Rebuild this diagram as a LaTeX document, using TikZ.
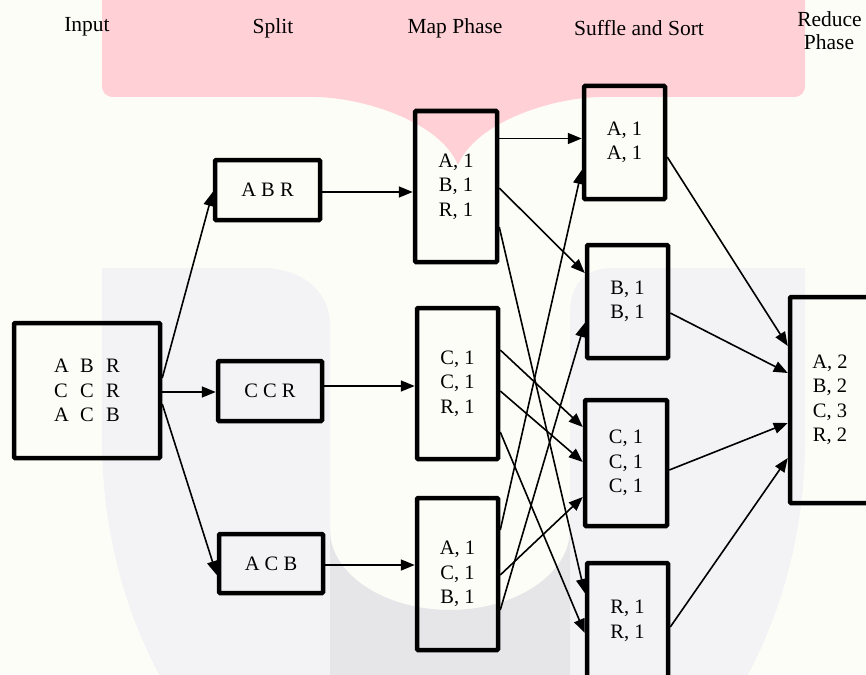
\documentclass[tikz,border=0pt]{standalone}
\usepackage{fontspec}
\setmainfont{Liberation Serif}
\usetikzlibrary{arrows.meta,calc}
\definecolor{paper}{HTML}{FDFDF8}
\definecolor{logored}{HTML}{FFD1D6}
\definecolor{logogray}{HTML}{F3F3F6}
\definecolor{logodark}{HTML}{E6E6E9}
\begin{document}
\begin{tikzpicture}[x=1pt,y=-1pt,
  box/.style={draw, line width=4.5pt, rounded corners=1pt, inner sep=0pt,
    align=center, font=\fontsize{20.5}{24.5}\selectfont},
  flow/.style={line width=1.6pt, -{Triangle[length=14pt,width=11pt]}},
  phase/.style={anchor=base, font=\fontsize{21.5}{24}\selectfont}]

% page
\fill[paper] (0,0) rectangle (866,674);
\useasboundingbox (0,0) rectangle (866,674);

% background emblem
\fill[logored] (102,-5) -- (102,85) .. controls (102,93) and (106,97) .. (114,97)
  -- (316,97) .. controls (365,98) and (440,122) .. (458,165)
  .. controls (476,122) and (551,98) .. (600,97)
  -- (793,97) .. controls (801,97) and (805,93) .. (805,85) -- (805,-5) -- cycle;
\fill[logogray] (102,268) -- (262,268) .. controls (300,268) and (330,290) .. (330,325)
  -- (330,530) .. controls (330,574) and (384,610) .. (450,610)
  .. controls (516,610) and (570,574) .. (570,530)
  -- (570,312) .. controls (570,285) and (585,268) .. (612,268)
  -- (805,268) -- (805,440) .. controls (805,677) and (646.5,871) .. (453.5,871)
  .. controls (260.5,871) and (102,677) .. (102,440) -- cycle;
\fill[logodark] (330,530) .. controls (330,574) and (384,610) .. (450,610)
  .. controls (516,610) and (570,574) .. (570,530) -- (570,690) -- (330,690) -- cycle;

% column headings
\node[phase] (hin)   at (87,31.5)  {Input};
\node[phase] (hsp)   at (273,33.5) {Split};
\node[phase] (hmap)  at (455,33.5) {Map Phase};
\node[phase] (hsort) at (639,36)   {Suffle and Sort};
\node[phase] (hred)  at (829.5,27) {Reduce};
\node[phase] (hred2) at (829,50)   {Phase};

% input
\node[box, minimum width=146pt, minimum height=135pt] (in) at (87,390.5)
  {\makebox[26pt][l]{A}\makebox[26pt][l]{B}R\\
   \makebox[26pt][l]{C}\makebox[26pt][l]{C}R\\
   \makebox[26pt][l]{A}\makebox[26pt][l]{C}B};

% split
\node[box, minimum width=105pt, minimum height=60pt] (abr) at (267.5,190)   {A B R};
\node[box, minimum width=104pt, minimum height=60pt] (ccr) at (270,391)     {C C R};
\node[box, minimum width=104pt, minimum height=59pt] (acb) at (271,563.5)   {A C B};

% map
\node[box, minimum width=82pt, minimum height=151pt] (m1) at (456,186.5)   {A, 1\\B, 1\\R, 1};
\node[box, minimum width=81pt, minimum height=151pt] (m2) at (457.5,383.5) {C, 1\\C, 1\\R, 1};
\node[box, minimum width=81pt, minimum height=152pt] (m3) at (457.5,574)   {A, 1\\C, 1\\B, 1};

% shuffle and sort
\node[box, minimum width=81pt, minimum height=113pt] (s1) at (624.5,142.5) {A, 1\\A, 1};
\node[box, minimum width=81pt, minimum height=113pt] (s2) at (627.5,301.5) {B, 1\\B, 1};
\node[box, minimum width=82pt, minimum height=126pt] (s3) at (626,463)     {C, 1\\C, 1\\C, 1};
\node[box, minimum width=81pt, minimum height=116pt] (s4) at (627.5,621)   {R, 1\\R, 1};

% reduce
\node[box, minimum width=80pt, minimum height=206pt] (red) at (830,400)
  {A, 2\\B, 2\\C, 3\\R, 2};

% input -> split
\draw[flow] ($(in.east)+(0,-12.5)$) -- ($(abr.west)+(0,2)$);
\draw[flow] ($(in.east)+(0,1.5)$)   -- ($(ccr.west)+(0,1)$);
\draw[flow] ($(in.east)+(0,13.5)$)  -- ($(acb.west)+(0,11.5)$);

% split -> map
\draw[flow] ($(abr.east)+(0,2)$)  -- ($(m1.west)+(0,5.5)$);
\draw[flow] ($(ccr.east)+(0,-5)$) -- ($(m2.west)+(0,2.5)$);
\draw[flow] ($(acb.east)+(0,1.5)$) -- ($(m3.west)+(0,-9)$);

% map -> shuffle
\draw[flow] ($(m1.east)+(0,-48)$)  -- ($(s1.west)+(0,-4)$);
\draw[flow] ($(m1.east)+(0,1.5)$)  -- ($(s2.west)+(0,-28.5)$);
\draw[flow] ($(m1.east)+(0,40.5)$) -- ($(s4.west)+(0,-28)$);
\draw[flow] ($(m2.east)+(0,-33.5)$) -- ($(s3.west)+(0,-36)$);
\draw[flow] ($(m2.east)+(0,7.5)$)  -- ($(s3.west)+(0,-1)$);
\draw[flow] ($(m2.east)+(0,48.5)$) -- ($(s4.west)+(0,12)$);
\draw[flow] ($(m3.east)+(0,-44)$)  -- ($(s1.west)+(0,27.5)$);
\draw[flow] ($(m3.east)+(0,1)$)    -- ($(s3.west)+(0,34)$);
\draw[flow] ($(m3.east)+(0,36)$)   -- ($(s2.west)+(0,21.5)$);

% shuffle -> reduce
\draw[flow] ($(s1.east)+(0,14.5)$) -- ($(red.west)+(0,-54)$);
\draw[flow] ($(s2.east)+(0,11.5)$) -- ($(red.west)+(0,-27)$);
\draw[flow] ($(s3.east)+(0,7)$)    -- ($(red.west)+(0,23)$);
\draw[flow] ($(s4.east)+(0,6)$)    -- ($(red.west)+(0,58)$);
\end{tikzpicture}
\end{document}
